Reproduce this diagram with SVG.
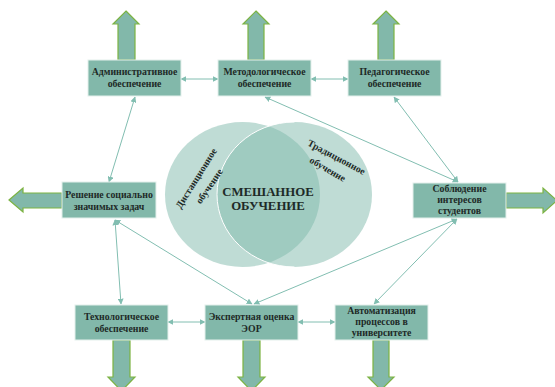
<svg xmlns="http://www.w3.org/2000/svg" width="555" height="387" viewBox="0 0 555 387">
<style>
.box{fill:#82b8aa;stroke:#e4f0ec;stroke-width:1}
.blk{fill:#82b8aa;stroke:#7cb342;stroke-width:1.2}
.t{font-family:"Liberation Serif","Times New Roman",serif;font-weight:bold;font-size:9.8px;fill:#1e2a27;text-anchor:middle}
.c{stroke:#82beb1;stroke-width:1;fill:none;marker-start:url(#ah);marker-end:url(#ah)}
.ct{font-family:"Liberation Serif","Times New Roman",serif;font-weight:bold;font-size:9.8px;fill:#1e2a27;text-anchor:middle}
</style>
<defs>
<marker id="ah" viewBox="0 0 10 10" refX="9" refY="5" markerWidth="6" markerHeight="6" markerUnits="userSpaceOnUse" orient="auto-start-reverse">
<path d="M0,0 L10,5 L0,10 Z" fill="#82beb1"/>
</marker>
</defs>
<rect width="555" height="387" fill="#ffffff"/>
<g id="venn">
<ellipse cx="242.5" cy="194.5" rx="77.5" ry="72.5" fill="#80b9ab" fill-opacity="0.5"/>
<ellipse cx="294.5" cy="194.5" rx="77.5" ry="72.5" fill="#80b9ab" fill-opacity="0.5"/>
<path d="M294.5,122 A77.5,72.5 0 0 0 294.5,267" fill="none" stroke="#ffffff" stroke-width="1"/>
<text class="ct" transform="translate(199,180) rotate(-58)"><tspan x="0" y="0">Дистанционное</tspan></text>
<text class="ct" transform="translate(212,188) rotate(-56)"><tspan x="0" y="0">обучение</tspan></text>
<text class="ct" transform="translate(335,160) rotate(28)"><tspan x="0" y="0">Традиционное</tspan></text>
<text class="ct" transform="translate(326,172) rotate(30)"><tspan x="0" y="0">обучение</tspan></text>
<text class="t" style="font-size:12.8px" x="268" y="196">СМЕШАННОЕ</text>
<text class="t" style="font-size:12.8px" x="268" y="210">ОБУЧЕНИЕ</text>
</g>
<g id="connectors">
<line class="c" x1="181" y1="79" x2="218" y2="79"/>
<line class="c" x1="311" y1="79" x2="348" y2="79"/>
<line class="c" x1="168" y1="322" x2="205" y2="322"/>
<line class="c" x1="298" y1="322" x2="335" y2="322"/>
<line class="c" x1="135" y1="97" x2="109" y2="182"/>
<line class="c" x1="265" y1="97" x2="458" y2="182"/>
<line class="c" x1="394" y1="97" x2="458" y2="182"/>
<line class="c" x1="115" y1="220" x2="121" y2="304"/>
<line class="c" x1="115" y1="220" x2="252" y2="304"/>
<line class="c" x1="457" y1="219" x2="254" y2="304"/>
<line class="c" x1="457" y1="219" x2="374" y2="304"/>
</g>
<g id="arrows">
<polygon class="blk" points="126,11 139,24 135,24 135,60 118,60 118,24 113,24"/>
<polygon class="blk" points="256,11 269,24 264,24 264,60 248,60 248,24 243,24"/>
<polygon class="blk" points="386,11 399,24 394,24 394,60 378,60 378,24 373,24"/>
<polygon class="blk" points="9,200 23,188 23,193 62,193 62,208 23,208 23,212"/>
<polygon class="blk" points="557,200.5 543,188 543,193 506,193 506,208 543,208 543,213"/>
<polygon class="blk" points="121.5,391 108,377 113,377 113,340 130,340 130,377 135,377"/>
<polygon class="blk" points="251.5,391 238,377 243,377 243,340 260,340 260,377 265,377"/>
<polygon class="blk" points="381,390 368,377 373,377 373,340 389,340 389,377 394,377"/>
</g>
<g id="n-admin"><rect class="box" x="88" y="60" width="93" height="36"/><text class="t" x="134.5" y="75">Административное</text><text class="t" x="134.5" y="87">обеспечение</text></g>
<g id="n-metod"><rect class="box" x="218" y="60" width="93" height="36"/><text class="t" x="264.5" y="75">Методологическое</text><text class="t" x="264.5" y="87">обеспечение</text></g>
<g id="n-ped"><rect class="box" x="348" y="60" width="93" height="36"/><text class="t" x="394.5" y="75">Педагогическое</text><text class="t" x="394.5" y="87">обеспечение</text></g>
<g id="n-resh"><rect class="box" x="62" y="182" width="94" height="36"/><text class="t" x="109" y="198">Решение социально</text><text class="t" x="109" y="210">значимых задач</text></g>
<g id="n-sobl"><rect class="box" x="413" y="183" width="93" height="35"/><text class="t" x="459.5" y="192">Соблюдение</text><text class="t" x="459.5" y="203">интересов</text><text class="t" x="459.5" y="214">студентов</text></g>
<g id="n-tech"><rect class="box" x="75" y="305" width="93" height="35"/><text class="t" x="121.5" y="320">Технологическое</text><text class="t" x="121.5" y="332">обеспечение</text></g>
<g id="n-eksp"><rect class="box" x="205" y="305" width="93" height="35"/><text class="t" x="251.5" y="320">Экспертная оценка</text><text class="t" x="251.5" y="332">ЭОР</text></g>
<g id="n-avt"><rect class="box" x="335" y="305" width="93" height="35"/><text class="t" x="381.5" y="314">Автоматизация</text><text class="t" x="381.5" y="325">процессов в</text><text class="t" x="381.5" y="336">университете</text></g>
</svg>
